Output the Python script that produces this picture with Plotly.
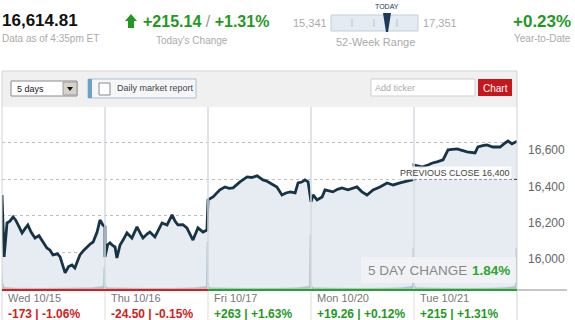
import plotly.graph_objects as go

W, H = 575, 320
FONT = "Liberation Sans, Arial, sans-serif"
GREEN = "#1f9a1f"
RED = "#d42020"

# ---------------- data ----------------
session_minutes = 390
days = ["Wed 10/15", "Thu 10/16", "Fri 10/17", "Mon 10/20", "Tue 10/21"]
day_changes = ["-173 | -1.06%", "-24.50 | -0.15%", "+263 | +1.63%", "+19.26 | +0.12%", "+215 | +1.31%"]
day_up = [False, False, True, True, True]

wed_min = [0, 8, 19, 30, 42, 52, 61, 76, 88, 98, 110, 125, 140, 151, 170, 182, 193, 210, 220, 239, 252, 265, 276, 286, 295, 310, 322, 335, 345, 360, 371, 382, 390]
wed_val = [16314, 15973, 16160, 16170, 16193, 16175, 16149, 16105, 16130, 16149, 16110, 16077, 16090, 16066, 16022, 16010, 15984, 15990, 15973, 15885, 15920, 15929, 15912, 15950, 15984, 16010, 16028, 16045, 16055, 16110, 16176, 16149, 16140]
thu_min = [0, 10, 19, 30, 38, 45, 57, 70, 83, 102, 121, 135, 144, 160, 170, 189, 205, 216, 235, 245, 254, 265, 276, 295, 310, 333, 345, 352, 371, 386]
thu_val = [15973, 16040, 16050, 16035, 16028, 15967, 16039, 16070, 16105, 16077, 16138, 16100, 16077, 16100, 16110, 16083, 16130, 16160, 16149, 16180, 16204, 16170, 16149, 16150, 16133, 16066, 16110, 16133, 16110, 16121]
fri_min = [0, 19, 45, 64, 80, 95, 121, 135, 148, 165, 186, 208, 220, 235, 261, 280, 295, 311, 330, 341, 355, 367, 379]
fri_val = [16287, 16303, 16342, 16358, 16350, 16353, 16386, 16400, 16413, 16410, 16419, 16397, 16392, 16380, 16358, 16314, 16325, 16331, 16325, 16380, 16385, 16397, 16386]
mon_min = [0, 8, 23, 42, 53, 70, 83, 100, 117, 140, 160, 174, 193, 212, 235, 261, 288, 311, 337, 356, 382, 390]
mon_val = [16276, 16314, 16287, 16303, 16342, 16335, 16331, 16345, 16353, 16342, 16350, 16358, 16331, 16314, 16342, 16358, 16380, 16369, 16380, 16386, 16397, 16400]
tue_min = [0, 30, 53, 70, 87, 110, 129, 145, 163, 185, 201, 231, 242, 260, 276, 299, 326, 345, 356, 371, 390]
tue_val = [16479, 16468, 16479, 16490, 16496, 16507, 16562, 16565, 16567, 16558, 16551, 16545, 16578, 16585, 16589, 16578, 16578, 16600, 16611, 16595, 16610]

vol_min = [0, 2, 8, 60, 150, 250, 340, 375, 384, 386, 389]
wed_vol = [93, 40, 14, 10, 9, 9, 12, 18, 22, 126, 126]
thu_vol = [45, 25, 12, 10, 9, 9, 12, 18, 22, 262, 262]
fri_vol = [45, 25, 12, 10, 9, 9, 12, 18, 22, 300, 300]
mon_vol = [45, 25, 12, 10, 9, 9, 12, 18, 22, 230, 230]
tue_vol = [45, 25, 12, 10, 9, 9, 12, 18, 22, 230, 230]

previous_close = 16399.67
five_day_change = "1.84%"
y_ticks = [16000, 16200, 16400, 16600]
y_range = [15791, 16798]

# ------------- assemble -------------
price_days = [(wed_min, wed_val), (thu_min, thu_val), (fri_min, fri_val), (mon_min, mon_val), (tue_min, tue_val)]
vol_days = [wed_vol, thu_vol, fri_vol, mon_vol, tue_vol]
px_x, px_y = [], []
for d, (mins, vals) in enumerate(price_days):
    px_x += [d * session_minutes + m for m in mins]
    px_y += vals
vx, vy = [], []
for d, vols in enumerate(vol_days):
    vx += [d * session_minutes + m for m in vol_min]
    vy += vols

def px(x):
    return x / W

def py(y):
    return 1 - y / H

L, R, T, B = 2, 517, 107, 290

fig = go.Figure()
fig.add_trace(go.Scatter(x=px_x, y=px_y, mode="lines", line=dict(width=0, color="rgba(0,0,0,0)"),
                         fill="tozeroy", fillcolor="#e7ecf2", hoverinfo="skip"))
fig.add_trace(go.Scatter(x=vx, y=vy, yaxis="y2", mode="lines", line=dict(width=0.5, color="#a9bac9"),
                         fill="tozeroy", fillcolor="#b3c2cf", hoverinfo="skip"))
fig.add_trace(go.Scatter(x=px_x, y=px_y, mode="lines", line=dict(width=2.8, color="#173447")))

shapes = []
# header 52 week range
shapes.append(dict(type="rect", xref="paper", yref="paper", x0=px(331), x1=px(418), y0=py(31), y1=py(15),
                   fillcolor="#e4ebf2", line=dict(color="#c5ced8", width=1)))
for tx in [352, 374, 397]:
    shapes.append(dict(type="line", xref="paper", yref="paper", x0=px(tx), x1=px(tx), y0=py(27), y1=py(19),
                       line=dict(color="#b8c2cc", width=1)))
shapes.append(dict(type="path", xref="paper", yref="paper",
                   path=f"M {px(383)} {py(13)} L {px(391)} {py(13)} L {px(388)} {py(32)} L {px(386)} {py(32)} Z",
                   fillcolor="#1d3a5c", line=dict(width=0)))
# green arrow
shapes.append(dict(type="path", xref="paper", yref="paper",
                   path=(f"M {px(131)} {py(14)} L {px(137)} {py(21)} L {px(134)} {py(21)} L {px(134)} {py(28)} "
                         f"L {px(128)} {py(28)} L {px(128)} {py(21)} L {px(125)} {py(21)} Z"),
                   fillcolor=GREEN, line=dict(width=0)))
# panel + toolbar
shapes.append(dict(type="rect", xref="paper", yref="paper", x0=px(2), x1=px(517), y0=py(107), y1=py(71),
                   fillcolor="#f0f0f0", line=dict(width=0), layer="below"))
shapes.append(dict(type="rect", xref="paper", yref="paper", x0=px(2), x1=px(517), y0=py(321), y1=py(71),
                   fillcolor="rgba(0,0,0,0)", line=dict(color="#d4d4d4", width=1)))
# dropdown
shapes.append(dict(type="rect", xref="paper", yref="paper", x0=px(11), x1=px(77), y0=py(96), y1=py(81),
                   fillcolor="white", line=dict(color="#8a8a8a", width=1)))
shapes.append(dict(type="rect", xref="paper", yref="paper", x0=px(63), x1=px(77), y0=py(95), y1=py(82),
                   fillcolor="#d6d2ca", line=dict(color="#9a9a9a", width=1)))
shapes.append(dict(type="path", xref="paper", yref="paper",
                   path=f"M {px(67)} {py(87)} L {px(73)} {py(87)} L {px(70)} {py(91)} Z",
                   fillcolor="#111", line=dict(width=0)))
# daily market report
shapes.append(dict(type="rect", xref="paper", yref="paper", x0=px(88), x1=px(196), y0=py(98), y1=py(79),
                   fillcolor="#f4f6f8", line=dict(color="#a9bfd3", width=1)))
shapes.append(dict(type="rect", xref="paper", yref="paper", x0=px(88), x1=px(92), y0=py(98), y1=py(79),
                   fillcolor="#6aa3c8", line=dict(width=0)))
shapes.append(dict(type="rect", xref="paper", yref="paper", x0=px(99), x1=px(110), y0=py(95), y1=py(83),
                   fillcolor="white", line=dict(color="#8a8a8a", width=1)))
# add ticker + chart button
shapes.append(dict(type="rect", xref="paper", yref="paper", x0=px(371), x1=px(475), y0=py(96), y1=py(79),
                   fillcolor="white", line=dict(color="#cfcfcf", width=1)))
shapes.append(dict(type="rect", xref="paper", yref="paper", x0=px(478), x1=px(512), y0=py(96), y1=py(79),
                   fillcolor="#c8161d", line=dict(width=0)))
# day separators in plot
for d in range(1, 5):
    shapes.append(dict(type="line", xref="x", yref="paper", x0=d * session_minutes, x1=d * session_minutes,
                       y0=py(B), y1=py(T), line=dict(color="#d3dbe3", width=1.5)))
    xs = L + (R - L) * d / 5
    shapes.append(dict(type="line", xref="paper", yref="paper", x0=px(xs), x1=px(xs), y0=py(320), y1=py(B),
                       line=dict(color="#dddddd", width=1)))
# previous close
shapes.append(dict(type="line", xref="x", yref="y", x0=4 * session_minutes, x1=5 * session_minutes,
                   y0=previous_close, y1=previous_close, line=dict(color="#333", width=1, dash="3px,2px")))
# bottom colored baseline
split = L + (R - L) * 2 / 5
shapes.append(dict(type="line", xref="paper", yref="paper", x0=px(R), x1=px(567), y0=py(B), y1=py(B),
                   line=dict(color="#b5b5b5", width=1.5)))
shapes.append(dict(type="line", xref="paper", yref="paper", x0=px(L), x1=px(split), y0=py(B), y1=py(B),
                   line=dict(color="#e01b1b", width=2)))
shapes.append(dict(type="line", xref="paper", yref="paper", x0=px(split), x1=px(R), y0=py(B), y1=py(B),
                   line=dict(color="#22a822", width=2)))
# 5 day change box
shapes.append(dict(type="rect", xref="paper", yref="paper", x0=px(361), x1=px(516), y0=py(283), y1=py(257),
                   fillcolor="rgba(242,243,245,0.9)", line=dict(width=0)))

ann = []
def text(x, y, s, size, color, xanchor="left", bold=False, bg=None):
    a = dict(xref="paper", yref="paper", x=px(x), y=py(y), text=(f"<b>{s}</b>" if bold else s),
             showarrow=False, xanchor=xanchor, yanchor="middle",
             font=dict(family=FONT, size=size, color=color))
    if bg:
        a["bgcolor"] = bg
        a["borderpad"] = 1
    ann.append(a)

text(0, 20, "16,614.81", 17, "#111", bold=True)
text(0, 39, "Data as of 4:35pm ET", 10, "#aaa")
text(141, 21, "<b>+215.14</b> <span style='color:#999'>/</span> <b>+1.31%</b>", 16, GREEN)
text(192, 40, "Today's Change", 10, "#aaa", xanchor="center")
text(387, 6, "TODAY", 7, "#1d3a5c", xanchor="center")
text(329, 23, "15,341", 11, "#aaa", xanchor="right")
text(421, 23, "17,351", 11, "#aaa")
text(375, 42, "52-Week Range", 11, "#aaa", xanchor="center")
text(573, 22, "+0.23%", 17, GREEN, xanchor="right", bold=True)
text(573, 39, "Year-to-Date", 10, "#aaa", xanchor="right")
text(15, 89, "5 days", 9, "#222")
text(115, 88, "Daily market report", 9, "#444")
text(373, 88, "Add ticker", 9, "#aaa")
text(495, 88, "Chart", 10, "white", xanchor="center")
text(512, 173, "PREVIOUS CLOSE 16,400", 9, "#444", xanchor="right", bg="rgba(255,255,255,0.85)")
text(366, 270, "5 DAY CHANGE", 13.5, "#888")
text(512, 270, five_day_change, 13.5, "#2fa52f", xanchor="right", bold=True)
for d in range(5):
    x0 = L + (R - L) * d / 5 + 4
    text(x0, 298, days[d], 11, "#777")
    text(x0, 314, day_changes[d], 12, GREEN if day_up[d] else RED, bold=True)

fig.update_layout(
    width=W, height=H, margin=dict(l=0, r=0, t=0, b=0),
    paper_bgcolor="white", plot_bgcolor="white", showlegend=False,
    font=dict(family=FONT),
    xaxis=dict(domain=[px(L), px(R)], range=[0, 5 * session_minutes], showticklabels=False,
               showgrid=False, zeroline=False, ticks="", showline=False),
    yaxis=dict(domain=[py(B), py(T)], range=y_range, side="right", tickvals=y_ticks,
               ticktext=[f"{v:,}" for v in y_ticks], showgrid=True, gridcolor="#bdbdbd",
               griddash="dot", gridwidth=1, zeroline=False, ticks="", ticklabelstandoff=10,
               ticklabelshift=7, tickfont=dict(family=FONT, size=12, color="#666")),
    yaxis2=dict(domain=[py(B), py(T)], overlaying="y", range=[0, 1000], visible=False),
    shapes=shapes, annotations=ann,
)
fig.write_html("out.html")
